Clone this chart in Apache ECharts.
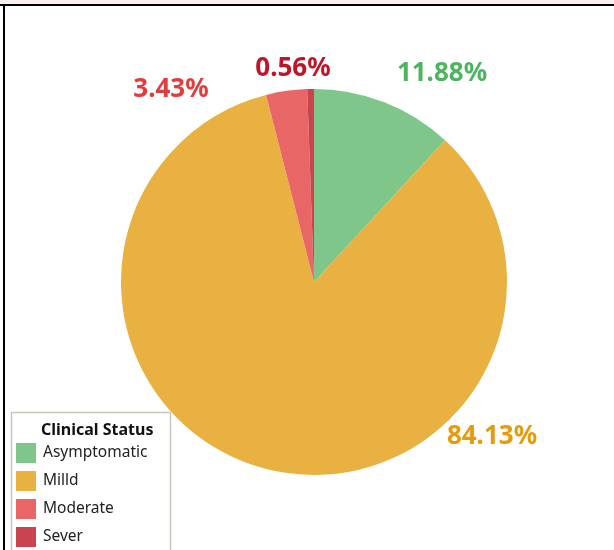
<!DOCTYPE html>
<html>
<head>
<meta charset="utf-8">
<script src="https://cdn.jsdelivr.net/npm/echarts@6/dist/echarts.min.js"></script>
<style>
  html, body { margin: 0; padding: 0; background: #fff; }
  #chart { width: 614px; height: 550px; }
</style>
</head>
<body>
<div id="chart"></div>
<script>
// data
const categories = ['Asymptomatic', 'Milld', 'Moderate', 'Sever']
const shares = [11.88, 84.13, 3.43, 0.56]
const sliceColors = ['#7ec68a', '#e9b142', '#e86666', '#c94350']
const labelColors = ['#4db55e', '#e59b0c', '#e23c3c', '#be1529']

// label spots, relative to pie centre
const labelOffsets = [[128, -208], [178, 155], [-143, -192], [-21, -213]]

const cx = 314, cy = 282
const font = '"Noto Sans", "Open Sans", sans-serif'

const chart = echarts.init(document.getElementById('chart'))

const option = {
  animation: false,
  title: {
    text: 'Clinical Status',
    left: 36,
    top: 417,
    textStyle: { fontSize: 16, fontWeight: 'bold', color: '#111', fontFamily: font }
  },
  legend: {
    orient: 'vertical',
    left: 11,
    top: 442,
    padding: [1, 5],
    icon: 'rect',
    itemWidth: 20,
    itemHeight: 20,
    itemGap: 8,
    data: categories,
    textStyle: { fontSize: 15.5, color: '#222', fontFamily: font, padding: [0, 0, 0, 2] }
  },
  graphic: [
    // frame
    { type: 'rect', shape: { x: 0, y: 0, width: 614, height: 4 }, style: { fill: '#f7f0ef' }, silent: true },
    { type: 'line', shape: { x1: 0, y1: 5, x2: 614, y2: 5 }, style: { stroke: '#000', lineWidth: 2 }, silent: true },
    { type: 'line', shape: { x1: 4, y1: 4, x2: 4, y2: 550 }, style: { stroke: '#000', lineWidth: 2 }, silent: true },
    // legend box
    { type: 'rect', shape: { x: 11.5, y: 412.5, width: 159, height: 150 }, style: { fill: 'none', stroke: '#c9c7bb', lineWidth: 1.5 }, silent: true, z: 0 }
  ],
  series: [
    {
      type: 'pie',
      center: [cx, cy],
      radius: 193,
      startAngle: 90,
      clockwise: true,
      data: categories.map((name, i) => ({
        name: name,
        value: shares[i],
        itemStyle: { color: sliceColors[i] },
        label: { color: labelColors[i] }
      })),
      label: {
        show: true,
        formatter: p => p.value.toFixed(2) + '%',
        fontSize: 26,
        fontWeight: 'bold',
        fontFamily: font
      },
      labelLine: { show: false },
      labelLayout: function (params) {
        const o = labelOffsets[params.dataIndex]
        return { x: cx + o[0], y: cy + o[1], align: 'center', verticalAlign: 'middle' }
      }
    }
  ]
}

chart.setOption(option)
</script>
</body>
</html>
